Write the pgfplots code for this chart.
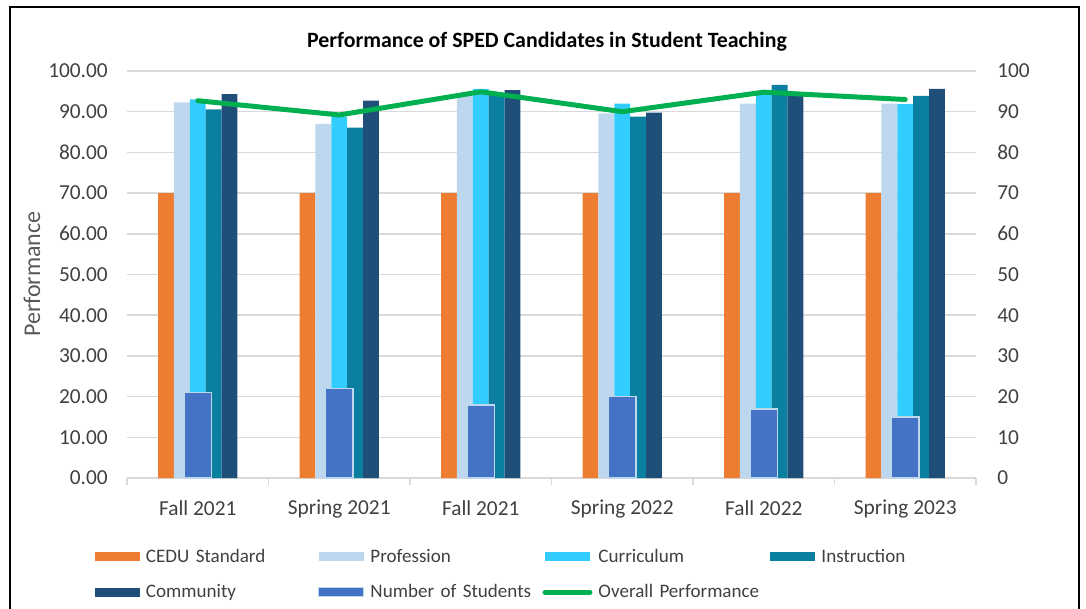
\documentclass[border=0pt]{standalone}
\usepackage{pgfplots}
\pgfplotsset{compat=1.18}
\usepackage{fontspec}
\setmainfont{Carlito}

% one pixel of the reference
\newdimen\pxu \pxu=0.75pt

\definecolor{cedu}{HTML}{ED7D31}
\definecolor{prof}{HTML}{BDD7EE}
\definecolor{curr}{HTML}{33CCFF}
\definecolor{instr}{HTML}{0A7FA0}
\definecolor{comm}{HTML}{1F4E79}
\definecolor{nstud}{HTML}{4472C4}
\definecolor{overall}{HTML}{00B050}
\definecolor{gridgray}{HTML}{D9D9D9}
\definecolor{tickgray}{HTML}{404040}
\definecolor{labelgray}{HTML}{595959}

\pgfplotsset{
  barleg/.style={legend image code/.code={\path[##1] (0pt,-4.5\pxu) rectangle (45\pxu,4.5\pxu);}},
  lineleg/.style={legend image code/.code={\draw[##1] (0pt,0pt) -- (45\pxu,0pt);}},
}

\begin{document}
\begin{tikzpicture}
\useasboundingbox (0,0) rectangle (1086\pxu,-608\pxu);
\draw[line width=2\pxu] (10\pxu,-7\pxu) rectangle (1079\pxu,-660\pxu);
\node[font=\bfseries\fontsize{16.4}{19}\selectfont] at (547\pxu,-42\pxu)
  {Performance of SPED Candidates in Student Teaching};

\begin{axis}[
    at={(127\pxu,-478\pxu)}, anchor=south west,
    scale only axis, width=849\pxu, height=407\pxu,
    xmin=-0.5, xmax=5.5, ymin=0, ymax=100,
    axis x line*=bottom, axis y line*=left,
    y axis line style={draw=none},
    x axis line style={draw=gridgray, line width=1.5\pxu},
    tick align=outside,
    major tick length=0pt,
    minor tick length=7\pxu,
    xtick={0,...,5},
    xticklabels={Fall 2021,Spring 2021,Fall 2021,Spring 2022,Fall 2022,Spring 2023},
    minor xtick={-0.5,0.5,1.5,2.5,3.5,4.5,5.5},
    minor x tick style={draw=gridgray, line width=1.5\pxu},
    ytick={0,10,...,100},
    yticklabels={0.00,10.00,20.00,30.00,40.00,50.00,60.00,70.00,80.00,90.00,100.00},
    ymajorgrids,
    grid style={draw=gridgray, line width=1.5\pxu},
    /pgf/number format/assume math mode=true,
    ticklabel style={font=\fontsize{16}{19}\selectfont, text=tickgray},
    yticklabel style={anchor=east, inner sep=0pt, xshift=-19\pxu},
    xticklabel style={anchor=north, inner sep=0pt, yshift=-22\pxu},
    ylabel={Performance},
    every axis y label/.style={at={(axis description cs:-0.1119,0.501)}, rotate=90, anchor=center,
      font=\fontsize{18}{21}\selectfont, text=labelgray},
]
\addplot[ybar, bar width=0.112, bar shift=-0.224, fill=cedu, draw=none]
  coordinates {(0,70) (1,70) (2,70) (3,70) (4,70) (5,70)};
\addplot[ybar, bar width=0.112, bar shift=-0.112, fill=prof, draw=none]
  coordinates {(0,92.3) (1,87.0) (2,94.0) (3,89.6) (4,92.0) (5,92.0)};
\addplot[ybar, bar width=0.112, bar shift=0, fill=curr, draw=none]
  coordinates {(0,93.0) (1,88.8) (2,95.6) (3,92.0) (4,94.8) (5,91.9)};
\addplot[ybar, bar width=0.112, bar shift=0.112, fill=instr, draw=none]
  coordinates {(0,90.6) (1,86.1) (2,94.5) (3,88.8) (4,96.6) (5,93.9)};
\addplot[ybar, bar width=0.112, bar shift=0.224, fill=comm, draw=none]
  coordinates {(0,94.3) (1,92.7) (2,95.3) (3,89.8) (4,94.3) (5,95.6)};
\end{axis}

\begin{axis}[
    at={(127\pxu,-478\pxu)}, anchor=south west,
    scale only axis, width=849\pxu, height=407\pxu,
    xmin=-0.5, xmax=5.5, ymin=0, ymax=100,
    axis y line*=right, hide x axis,
    y axis line style={draw=none},
    major tick length=0pt,
    ytick={0,10,...,100},
    yticklabels={0,10,20,30,40,50,60,70,80,90,100},
    /pgf/number format/assume math mode=true,
    yticklabel style={anchor=west, inner sep=0pt, xshift=21\pxu,
      font=\fontsize{16}{19}\selectfont, text=tickgray},
    legend columns=4,
    legend cell align=left,
    barleg,
    legend style={at={(axis description cs:-0.0377,-0.2371)}, anchor=west,
      draw=none, fill=none, inner sep=0pt, outer sep=0pt,
      font=\fontsize{14.3}{17}\selectfont, text=tickgray,
      nodes={inner sep=0pt}, row sep=20\pxu,
      /tikz/every odd column/.append style={column sep=6\pxu},
      /tikz/every even column/.append style={text width=172\pxu, align=left}},
]
\addlegendimage{fill=cedu, draw=none}
\addlegendentry{CEDU Standard}
\addlegendimage{fill=prof, draw=none}
\addlegendentry{Profession}
\addlegendimage{fill=curr, draw=none}
\addlegendentry{Curriculum}
\addlegendimage{fill=instr, draw=none}
\addlegendentry{Instruction}
\addlegendimage{fill=comm, draw=none}
\addlegendentry{Community}
\addplot[ybar, bar width=0.195, bar shift=0, fill=nstud, draw=prof, line width=1.5\pxu]
  coordinates {(0,21) (1,22) (2,18) (3,20) (4,17) (5,15)};
\addlegendentry{Number of Students}
\addplot[overall, line width=5\pxu, line cap=round, line join=round, mark=none, lineleg]
  coordinates {(0,92.7) (1,89.2) (2,94.9) (3,90.0) (4,94.8) (5,93.0)};
\addlegendentry{Overall Performance}
\end{axis}
\end{tikzpicture}
\end{document}
